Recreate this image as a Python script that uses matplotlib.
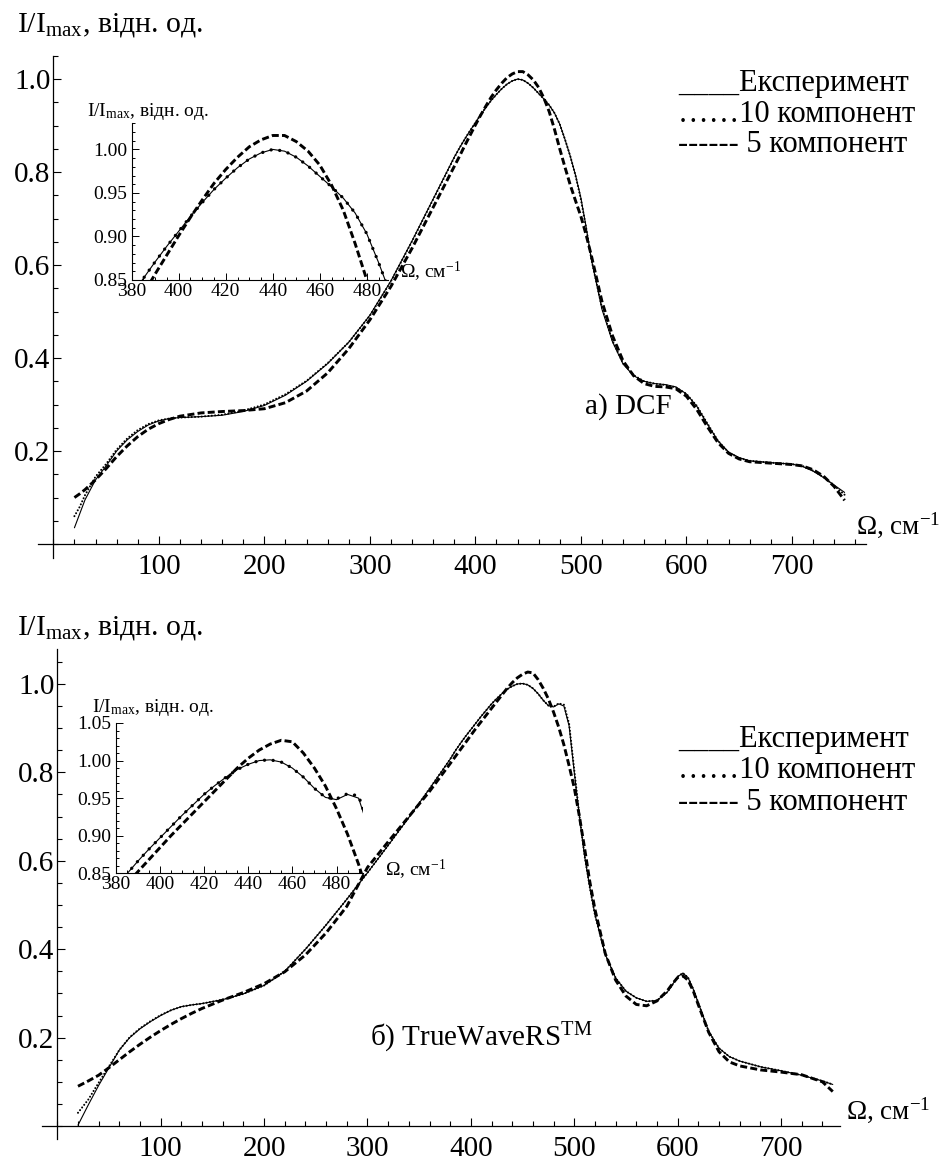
import matplotlib

matplotlib.use("Agg")
import matplotlib.pyplot as plt
from matplotlib.ticker import FixedLocator, MultipleLocator, FormatStrFormatter

W, H = 946, 1162

plt.rcParams["font.family"] = ["Liberation Serif", "DejaVu Serif"]
plt.rcParams["mathtext.fontset"] = "custom"
plt.rcParams["mathtext.rm"] = "Liberation Serif"
plt.rcParams["mathtext.it"] = "Liberation Serif:italic"
plt.rcParams["mathtext.bf"] = "Liberation Serif:bold"

# ---- panel a) DCF ----
omega_a = [20, 25, 30, 40, 50, 60, 70, 80, 90, 100, 110, 120, 140, 160, 180, 200,
           220, 240, 260, 280, 300, 320, 340, 360, 380, 385, 390, 395, 400, 405,
           410, 415, 420, 425, 430, 435, 440, 445, 450, 455, 460, 465, 470, 475,
           480, 485, 490, 495, 500, 505, 510, 520, 530, 540, 550, 560, 570, 580,
           590, 600, 610, 620, 630, 640, 650, 660, 680, 700, 710, 720, 730, 740, 750]
exp_a = [0.035, 0.065, 0.095, 0.138, 0.168, 0.200, 0.224, 0.242, 0.256, 0.265, 0.270,
         0.272, 0.274, 0.277, 0.285, 0.298, 0.320, 0.350, 0.388, 0.434, 0.492, 0.566,
         0.652, 0.742, 0.832, 0.852, 0.871, 0.889, 0.906, 0.923, 0.939, 0.954, 0.967,
         0.979, 0.989, 0.996, 1.000, 0.998, 0.991, 0.981, 0.969, 0.957, 0.944, 0.927,
         0.903, 0.870, 0.834, 0.793, 0.745, 0.682, 0.612, 0.505, 0.435, 0.387, 0.362,
         0.350, 0.345, 0.343, 0.338, 0.323, 0.296, 0.258, 0.222, 0.198, 0.186, 0.179,
         0.175, 0.172, 0.167, 0.157, 0.143, 0.127, 0.111]
fit10_a = [0.060, 0.080, 0.105, 0.145, 0.172, 0.203, 0.227, 0.245, 0.258, 0.266, 0.270,
           0.272, 0.274, 0.278, 0.287, 0.300, 0.322, 0.351, 0.389, 0.434, 0.491, 0.565,
           0.651, 0.741, 0.831, 0.852, 0.871, 0.889, 0.906, 0.923, 0.939, 0.954, 0.967,
           0.979, 0.989, 0.996, 1.000, 0.998, 0.991, 0.981, 0.969, 0.957, 0.944, 0.927,
           0.903, 0.870, 0.834, 0.792, 0.742, 0.680, 0.612, 0.508, 0.437, 0.389, 0.363,
           0.350, 0.345, 0.342, 0.337, 0.323, 0.297, 0.259, 0.222, 0.197, 0.185, 0.179,
           0.175, 0.172, 0.168, 0.158, 0.144, 0.126, 0.106]
fit5_a = [0.100, 0.108, 0.117, 0.138, 0.162, 0.188, 0.211, 0.231, 0.247, 0.259, 0.268,
          0.275, 0.282, 0.285, 0.287, 0.291, 0.304, 0.329, 0.368, 0.420, 0.482, 0.554,
          0.636, 0.724, 0.812, 0.834, 0.857, 0.879, 0.901, 0.922, 0.942, 0.961, 0.977,
          0.991, 1.003, 1.011, 1.016, 1.016, 1.009, 0.998, 0.982, 0.959, 0.930, 0.892,
          0.850, 0.810, 0.772, 0.738, 0.705, 0.665, 0.620, 0.522, 0.448, 0.394, 0.362,
          0.345, 0.339, 0.338, 0.334, 0.318, 0.289, 0.252, 0.218, 0.195, 0.183, 0.177,
          0.174, 0.171, 0.168, 0.160, 0.146, 0.124, 0.094]

# ---- panel б) TrueWaveRS ----
omega_b = [20, 25, 30, 40, 50, 60, 70, 80, 90, 100, 110, 120, 130, 140, 160, 180, 200,
           220, 240, 260, 280, 300, 320, 340, 360, 380, 385, 390, 395, 400, 405, 410,
           415, 420, 425, 430, 435, 440, 445, 450, 455, 460, 465, 470, 475, 480, 485,
           490, 495, 500, 505, 510, 515, 520, 530, 540, 550, 560, 570, 580, 590, 595,
           600, 605, 610, 615, 620, 630, 640, 650, 660, 680, 700, 720, 740, 750]
exp_b = [0.002, 0.025, 0.048, 0.092, 0.132, 0.172, 0.200, 0.220, 0.236, 0.250, 0.262,
         0.270, 0.274, 0.277, 0.286, 0.299, 0.318, 0.350, 0.400, 0.455, 0.513, 0.573,
         0.635, 0.698, 0.763, 0.830, 0.849, 0.866, 0.882, 0.897, 0.912, 0.927, 0.941,
         0.955, 0.967, 0.978, 0.988, 0.995, 1.000, 1.001, 0.998, 0.990, 0.978, 0.963,
         0.951, 0.948, 0.955, 0.950, 0.905, 0.800, 0.700, 0.610, 0.540, 0.478, 0.388,
         0.335, 0.305, 0.290, 0.282, 0.284, 0.303, 0.320, 0.338, 0.346, 0.336, 0.310,
         0.278, 0.214, 0.176, 0.157, 0.147, 0.134, 0.125, 0.115, 0.102, 0.094]
fit10_b = [0.030, 0.045, 0.060, 0.098, 0.135, 0.172, 0.201, 0.221, 0.237, 0.251, 0.262,
           0.270, 0.274, 0.277, 0.286, 0.299, 0.318, 0.350, 0.400, 0.455, 0.513, 0.573,
           0.635, 0.698, 0.763, 0.830, 0.849, 0.866, 0.882, 0.897, 0.912, 0.927, 0.941,
           0.955, 0.967, 0.978, 0.988, 0.995, 1.000, 1.001, 0.998, 0.990, 0.978, 0.963,
           0.951, 0.949, 0.956, 0.953, 0.910, 0.805, 0.702, 0.611, 0.540, 0.478, 0.388,
           0.335, 0.305, 0.290, 0.282, 0.284, 0.303, 0.320, 0.338, 0.346, 0.336, 0.310,
           0.278, 0.214, 0.176, 0.157, 0.147, 0.134, 0.125, 0.115, 0.102, 0.094]
fit5_b = [0.090, 0.096, 0.102, 0.115, 0.132, 0.150, 0.168, 0.185, 0.201, 0.216, 0.230,
          0.243, 0.255, 0.266, 0.285, 0.302, 0.322, 0.349, 0.387, 0.437, 0.497, 0.585,
          0.643, 0.700, 0.757, 0.820, 0.836, 0.852, 0.868, 0.884, 0.900, 0.915, 0.930,
          0.945, 0.960, 0.975, 0.990, 1.003, 1.014, 1.022, 1.027, 1.025, 1.010, 0.990,
          0.966, 0.936, 0.902, 0.862, 0.815, 0.765, 0.700, 0.628, 0.553, 0.490, 0.390,
          0.330, 0.294, 0.275, 0.272, 0.283, 0.306, 0.322, 0.336, 0.340, 0.330, 0.306,
          0.274, 0.212, 0.168, 0.145, 0.136, 0.127, 0.122, 0.116, 0.100, 0.078]

main_xticks = [100, 200, 300, 400, 500, 600, 700]
main_yticks = [0.2, 0.4, 0.6, 0.8, 1.0]
inset_xticks = [380, 400, 420, 440, 460, 480]
inset_yticks_a = [0.85, 0.90, 0.95, 1.00]
inset_yticks_b = [0.85, 0.90, 0.95, 1.00, 1.05]

legend_lines = ["____Експеримент", "……10 компонент", "------ 5 компонент"]
ylabel = r"I/I$_{\mathrm{max}}$, відн. од."
xlabel = r"$\Omega$, см$^{-1}$"


def rect(x0, x1, y0, y1):
    # pixel box (top-left origin) -> figure fraction
    return [x0 / W, 1 - y1 / H, (x1 - x0) / W, (y1 - y0) / H]


def ftext(x, y, s, **kw):
    kw.setdefault("va", "center")
    kw.setdefault("ha", "left")
    fig.text(x / W, 1 - y / H, s, **kw)


def draw_series(ax, x, e, f10, f5, inset=False):
    ax.plot(x, e, color="black", lw=0.8, solid_capstyle="round")
    if inset:
        ax.plot(x, f10, color="black", lw=2.4, linestyle=(0, (0.01, 2.6)),
                dash_capstyle="round")
    else:
        ax.plot(x, f10, color="black", lw=1.5, linestyle=(0, (0.01, 1.6)),
                dash_capstyle="round")
    ax.plot(x, f5, color="black", lw=2.1, linestyle=(0, (2.4, 1.1)))


def style_main(ax, xlim, ylim):
    ax.set_xlim(*xlim)
    ax.set_ylim(*ylim)
    ax.patch.set_visible(False)
    for s in ("top", "right"):
        ax.spines[s].set_visible(False)
    ax.spines["left"].set_position(("data", 0))
    ax.spines["bottom"].set_position(("data", 0))
    for s in ("left", "bottom"):
        ax.spines[s].set_linewidth(0.9)
    ax.xaxis.set_major_locator(FixedLocator(main_xticks))
    ax.yaxis.set_major_locator(FixedLocator(main_yticks))
    ax.xaxis.set_minor_locator(MultipleLocator(20))
    ax.yaxis.set_minor_locator(MultipleLocator(0.05))
    ax.yaxis.set_major_formatter(FormatStrFormatter("%.1f"))
    ax.tick_params(which="both", direction="in", width=0.8)
    ax.tick_params(which="major", length=6, labelsize=21)
    ax.tick_params(which="minor", length=3.5)
    ax.tick_params(axis="x", pad=7)
    ax.tick_params(axis="y", pad=2)


def style_inset(ax, xlim, ylim, yticks):
    ax.set_xlim(*xlim)
    ax.set_ylim(*ylim)
    ax.patch.set_visible(False)
    for s in ("top", "right"):
        ax.spines[s].set_visible(False)
    for s in ("left", "bottom"):
        ax.spines[s].set_linewidth(0.8)
    ax.xaxis.set_major_locator(FixedLocator(inset_xticks))
    ax.yaxis.set_major_locator(FixedLocator(yticks))
    ax.xaxis.set_minor_locator(MultipleLocator(5))
    ax.yaxis.set_minor_locator(MultipleLocator(0.01))
    ax.yaxis.set_major_formatter(FormatStrFormatter("%.2f"))
    ax.tick_params(which="both", direction="in", width=0.7)
    ax.tick_params(which="major", length=5, labelsize=14)
    ax.tick_params(which="minor", length=2.5)
    ax.tick_params(axis="x", pad=2)
    ax.tick_params(axis="y", pad=3)


fig = plt.figure(figsize=(W / 100, H / 100), dpi=100)

# top panel
ax_a = fig.add_axes(rect(37.5, 865.7, 55.8, 558.0))
draw_series(ax_a, omega_a, exp_a, fit10_a, fit5_a)
style_main(ax_a, (-15, 770), (-0.03, 1.05))
ax_a.text(545, 0.295, "а) DCF", fontsize=21, ha="center", va="center")

in_a = fig.add_axes(rect(131.7, 388.0, 123.3, 280.0))
draw_series(in_a, omega_a, exp_a, fit10_a, fit5_a, inset=True)
style_inset(in_a, (380, 489), (0.85, 1.03), inset_yticks_a)

ftext(17, 25, ylabel, fontsize=21.5)
ftext(87, 112, ylabel, fontsize=14)
ftext(856, 525, xlabel, fontsize=19.5)
ftext(400, 272, xlabel, fontsize=14)
for i, line in enumerate(legend_lines):
    ftext(678, 83 + 31 * i, line, fontsize=22)

# bottom panel
ax_b = fig.add_axes(rect(41.8, 840.0, 648.6, 1139.3))
draw_series(ax_b, omega_b, exp_b, fit10_b, fit5_b)
style_main(ax_b, (-15, 757), (-0.03, 1.08))
ax_b.text(410, 0.2, "б) TrueWaveRS$^{\\mathrm{TM}}$", fontsize=21, ha="center",
          va="center")

in_b = fig.add_axes(rect(115.7, 363.0, 723.0, 873.3))
draw_series(in_b, omega_b, exp_b, fit10_b, fit5_b, inset=True)
style_inset(in_b, (380, 492), (0.85, 1.05), inset_yticks_b)

ftext(17, 628, ylabel, fontsize=21.5)
ftext(92, 707, ylabel, fontsize=14)
ftext(846, 1110, xlabel, fontsize=19.5)
ftext(385, 870, xlabel, fontsize=14)
for i, line in enumerate(legend_lines):
    ftext(678, 740 + 31 * i, line, fontsize=22)

fig.savefig("out.png", dpi=100)
